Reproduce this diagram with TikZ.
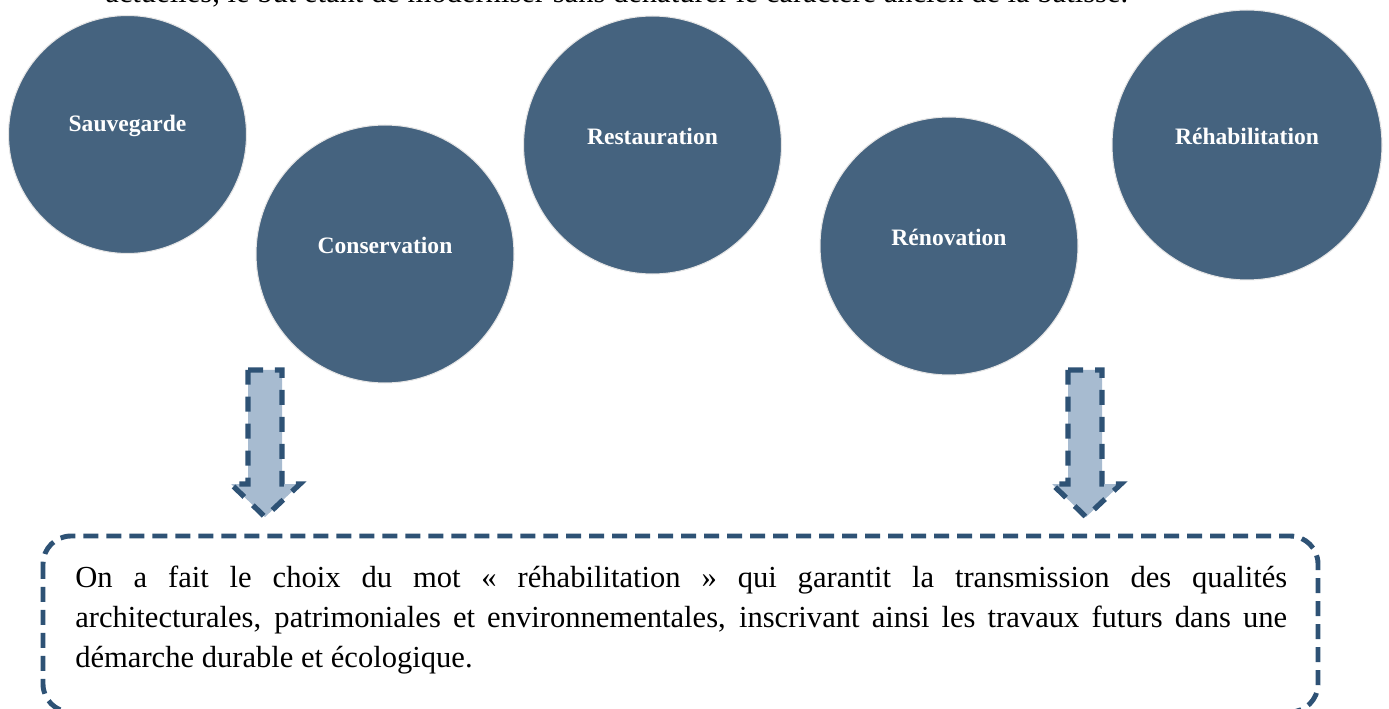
\documentclass[tikz,border=0pt]{standalone}
\usepackage{fontspec}
\setmainfont{Liberation Serif}
\definecolor{discblue}{HTML}{45637F}
\definecolor{dashblue}{HTML}{2E5275}
\definecolor{arrowblue}{HTML}{A7BBD0}
\begin{document}
\begin{tikzpicture}[x=0.02cm, y=-0.02cm,
  disc/.style={circle, fill=discblue, draw=white!80!gray, line width=0.6pt, inner sep=0pt},
  disclabel/.style={text=white, font=\fontsize{13.4}{16}\selectfont\bfseries},
  downarrow/.style={fill=arrowblue, draw=dashblue, line width=3pt, dash pattern=on 0.3cm off 0.24cm},
  notebox/.style={draw=dashblue, line width=2.8pt, dash pattern=on 0.3cm off 0.16cm, rounded corners=0.56cm}]

  \clip (0,0) rectangle (1389,709);
  \useasboundingbox (0,0) rectangle (1389,709);

  % line of text cut at the top
  \node[anchor=base west, inner sep=0pt, font=\fontsize{17.4}{22.8}\selectfont] (above) at (105,3)
    {actuelles, le but étant de moderniser sans dénaturer le caractère ancien de la bâtisse.};

  % the five discs
  \node[disc, minimum size=4.76cm] (sauv) at (127.5,134.5) {};
  \node[disc, minimum size=5.16cm] (cons) at (385,254) {};
  \node[disc, minimum size=5.16cm] (rest) at (652.5,145) {};
  \node[disc, minimum size=5.16cm] (reno) at (949,246) {};
  \node[disc, minimum size=5.4cm] (rehab) at (1247,145) {};

  \node[disclabel] (sauvtxt) at (127.5,126) {Sauvegarde};
  \node[disclabel] (constxt) at (385,245) {Conservation};
  \node[disclabel] (resttxt) at (652.5,136) {Restauration};
  \node[disclabel] (renotxt) at (949,237) {Rénovation};
  \node[disclabel] (rehabtxt) at (1247,136) {Réhabilitation};

  % block arrows down to the box
  \draw[downarrow] (248,370) -- (282,370) -- (282,484) -- (300,484) -- (265,517)
    -- (231,484) -- (248,484) -- cycle;
  \draw[downarrow] (1068,370) -- (1102,370) -- (1102,484) -- (1121,484) -- (1086,517)
    -- (1052,484) -- (1068,484) -- cycle;

  % dashed box with the conclusion
  \draw[notebox] (43,536) rectangle (1318,712);
  \node[anchor=base west, inner sep=0pt, text width=24.24cm, align=justify,
    font=\fontsize{17.4}{22.8}\selectfont] (choix) at (75,587)
    {On a fait le choix du mot «~réhabilitation~» qui garantit la transmission des qualités\linebreak
     architecturales, patrimoniales et environnementales, inscrivant ainsi les travaux futurs dans une\linebreak
     démarche durable et écologique.};

\end{tikzpicture}
\end{document}
